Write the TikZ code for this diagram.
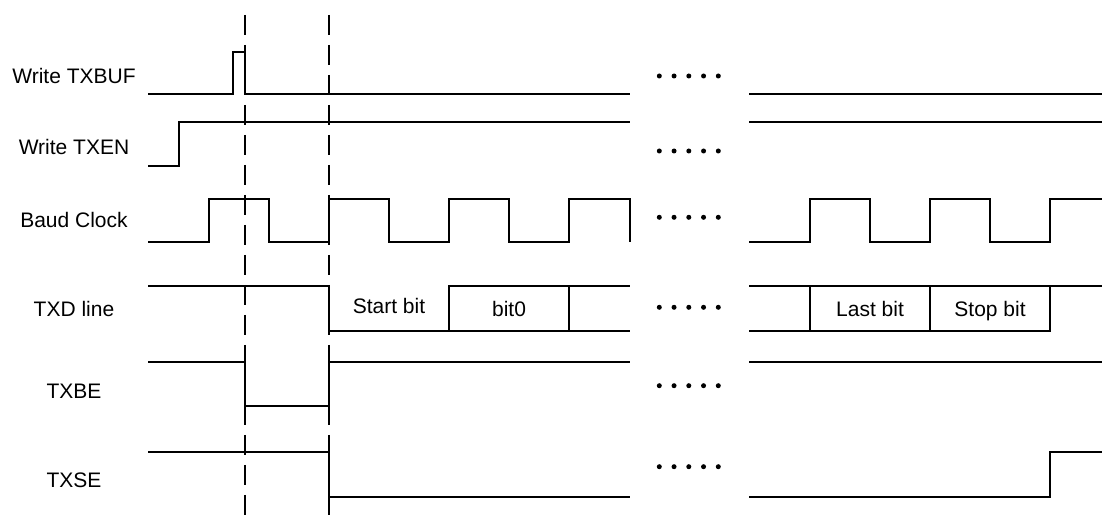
\documentclass[tikz,border=0pt]{standalone}
\usepackage{fontspec}
\setmainfont{Liberation Sans}
\begin{document}
\begin{tikzpicture}[x=0.5pt,y=-0.5pt,
  wave/.style={line width=1.2pt,line join=miter},
  guide/.style={line width=1.3pt,dash pattern=on 10pt off 5pt},
  siglabel/.style={font=\fontsize{10.5pt}{12pt}\selectfont,anchor=base,inner sep=0pt},
  bitlabel/.style={font=\fontsize{10.5pt}{12pt}\selectfont,anchor=base,inner sep=0pt},
  dot/.style={fill=black}]
\useasboundingbox (0,0) rectangle (1102,517);
% labels
\node[siglabel] (lbuf) at (74,83.3) {Write TXBUF};
\node[siglabel] (len)  at (74,155) {Write TXEN};
\node[siglabel] (lbaud) at (74,227.3) {Baud Clock};
\node[siglabel] (ltxd) at (74,316.7) {TXD line};
\node[siglabel] (ltxbe) at (74,398.3) {TXBE};
\node[siglabel] (ltxse) at (74,487.3) {TXSE};
% dashed guides
\coordinate (g1t) at (245,15); \coordinate (g1b) at (245,517);
\coordinate (g2t) at (329,15); \coordinate (g2b) at (329,517);
\draw[guide] (g1t) -- (g1b);
\draw[guide] (g2t) -- (g2b);
% Write TXBUF
\draw[wave] (148,94) -- (233,94) -- (233,52) -- (245,52) -- (245,94) -- (630,94);
\draw[wave] (749,94) -- (1102,94);
% Write TXEN
\draw[wave] (148,166) -- (179,166) -- (179,122) -- (630,122);
\draw[wave] (749,122) -- (1102,122);
% Baud Clock
\draw[wave] (148,242) -- (209,242) -- (209,199) -- (269,199) -- (269,242)
  -- (329,242) -- (329,199) -- (389,199) -- (389,242)
  -- (449,242) -- (449,199) -- (509,199) -- (509,242)
  -- (569,242) -- (569,199) -- (630,199) -- (630,242);
\draw[wave] (749,242) -- (810,242) -- (810,199) -- (870,199) -- (870,242)
  -- (930,242) -- (930,199) -- (990,199) -- (990,242)
  -- (1050,242) -- (1050,199) -- (1102,199);
% TXD line
\draw[wave] (148,286) -- (329,286) -- (329,331) -- (630,331);
\draw[wave] (449,331) -- (449,286) -- (630,286);
\draw[wave] (569,286) -- (569,331);
\draw[wave] (749,286) -- (1102,286);
\draw[wave] (749,331) -- (1050,331) -- (1050,286);
\draw[wave] (810,286) -- (810,331);
\draw[wave] (930,286) -- (930,331);
\node[bitlabel] (bstart) at (389,314) {Start bit};
\node[bitlabel] (bzero) at (509,316.7) {bit0};
\node[bitlabel] (blast) at (870,317) {Last bit};
\node[bitlabel] (bstop) at (990,317) {Stop bit};
% TXBE
\draw[wave] (148,362) -- (245,362) -- (245,406) -- (329,406) -- (329,362) -- (630,362);
\draw[wave] (749,362) -- (1102,362);
% TXSE
\draw[wave] (148,452) -- (329,452) -- (329,497) -- (630,497);
\draw[wave] (749,497) -- (1050,497) -- (1050,452) -- (1102,452);
% ellipsis dots
\foreach \yy in {76,151,217.3,307.3,385.7,466.7}{
  \foreach \k in {0,...,4}{
    \fill[dot] ({659.3+14.75*\k},\yy) circle[radius=1.25pt];
  }
}
\end{tikzpicture}
\end{document}
